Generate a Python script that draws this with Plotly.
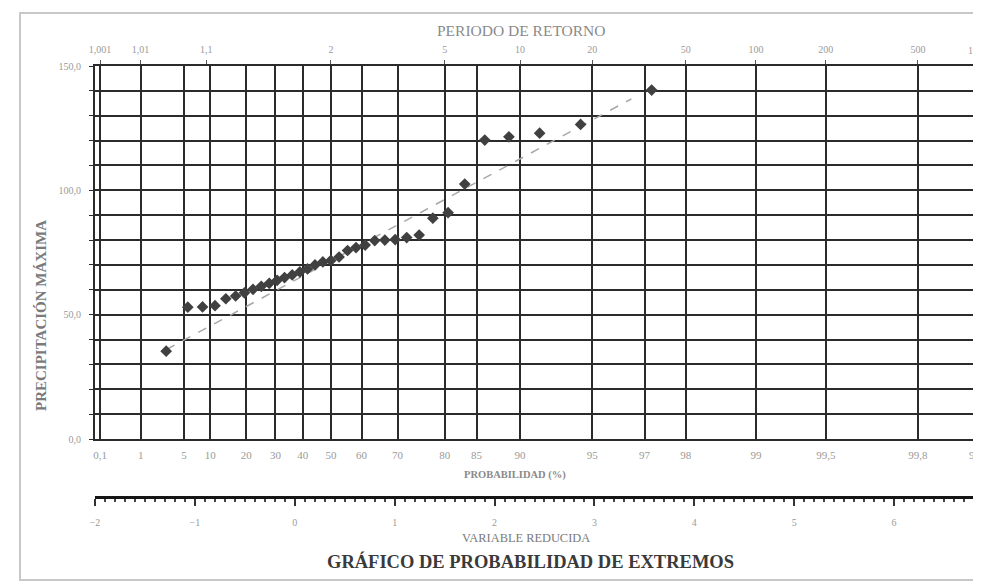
import numpy as np
import plotly.graph_objects as go

# ---------------- data ----------------
# plotting probability (%) of each observation
prob_pct = [2.8, 5.6, 8.3, 11.1, 13.9, 16.7, 19.4, 22.2, 25.0, 27.8, 30.6, 33.3,
            36.1, 38.9, 41.7, 44.4, 47.2, 50.0, 52.8, 55.6, 58.3, 61.1, 63.9, 66.7,
            69.4, 72.2, 75.0, 77.8, 80.6, 83.3, 86.1, 88.9, 91.7, 94.4, 97.2]
# maximum precipitation values
precip = [35.3, 53.0, 53.1, 53.6, 56.4, 57.5, 58.8, 60.2, 61.4, 62.6, 63.8, 64.9,
          66.0, 67.2, 68.4, 70.0, 71.2, 71.8, 73.2, 75.8, 77.0, 78.0, 79.8, 80.0,
          80.2, 81.0, 82.0, 88.8, 91.0, 102.5, 120.2, 121.5, 123.0, 126.5, 140.3]
# fitted (Gumbel) line end points: reduced variate and value
fit_reduced = [-1.27, 3.36]
fit_values = [36.0, 136.8]

prob_ticks = [0.1, 1, 5, 10, 20, 30, 40, 50, 60, 70, 80, 85, 90, 95, 97, 98, 99,
              99.5, 99.8]
prob_labels = ["0,1", "1", "5", "10", "20", "30", "40", "50", "60", "70", "80", "85",
               "90", "95", "97", "98", "99", "99,5", "99,8"]
period_ticks = [1.001, 1.01, 1.1, 2, 5, 10, 20, 50, 100, 200, 500]
period_labels = ["1,001", "1,01", "1,1", "2", "5", "10", "20", "50", "100", "200",
                 "500"]
# labels of the last grid line, cut by the right edge of the scanned sheet
edge_prob_label = "99,9"
edge_period_label = "1.000"
y_ticks = [0, 50, 100, 150]
y_labels = ["0,0", "50,0", "100,0", "150,0"]


def gumbel(F):
    F = np.asarray(F, dtype=float)
    return -np.log(-np.log(F))


SERIF = "Liberation Serif, Times New Roman, serif"
GRID = "#2b2b2b"
LBL = "#9a9a9a"

x_pts = gumbel(np.array(prob_pct) / 100.0)

# page body has an 8px margin: layout in figure px = screen px - 8
OFF = 8
W, H = 973, 584
L, R, T, B = 87, 0, 58, 95
pw, ph = W - L - R, H - T - B


def px(sx):
    return (sx - OFF - L) / pw


def py(sy):
    return (H - B - (sy - OFF)) / ph


xr = [-1.983, 6.842]
xr3 = [-2.0, 6.87]
ydom0 = py(439)

fig = go.Figure()
fig.add_trace(go.Scatter(x=fit_reduced, y=fit_values, mode="lines",
                         line=dict(color="#a8a8a8", width=1.5, dash="dash"),
                         hoverinfo="skip", showlegend=False))
fig.add_trace(go.Scatter(x=x_pts, y=precip, mode="markers",
                         marker=dict(symbol="diamond", size=9, color="#404040"),
                         showlegend=False))
# empty traces so that the extra axes are drawn
fig.add_trace(go.Scatter(x=[None], y=[None], xaxis="x2", yaxis="y",
                         mode="markers", showlegend=False, hoverinfo="skip"))
fig.add_trace(go.Scatter(x=[None], y=[None], xaxis="x3", yaxis="y",
                         mode="markers", showlegend=False, hoverinfo="skip"))

fig.update_layout(
    width=W, height=H,
    margin=dict(l=L, r=R, t=T, b=B),
    paper_bgcolor="white", plot_bgcolor="white",
    showlegend=False,
    xaxis=dict(domain=[0, 1], range=xr, anchor="y",
               tickmode="array", tickvals=gumbel(np.array(prob_ticks) / 100.0),
               ticktext=prob_labels, showgrid=True, gridcolor=GRID, gridwidth=1.8,
               zeroline=False, showline=True, linecolor=GRID, linewidth=2,
               ticks="", ticklabelstandoff=5, ticklabeloverflow="allow",
               tickfont=dict(family=SERIF, size=11, color=LBL)),
    xaxis2=dict(range=xr, anchor="y", overlaying="x", side="top",
                tickmode="array", tickvals=gumbel(1 - 1 / np.array(period_ticks)),
                ticktext=period_labels, showgrid=False, zeroline=False,
                showline=True, linecolor=GRID, linewidth=2,
                ticks="outside", ticklen=4, tickcolor="#555", ticklabelstandoff=3,
                ticklabeloverflow="allow",
                tickfont=dict(family=SERIF, size=10, color=LBL)),
    xaxis3=dict(range=xr3, anchor="free", position=0, overlaying="x", side="bottom",
                tickmode="linear", tick0=0, dtick=1, showgrid=False, zeroline=False,
                showline=True, linecolor="#151515", linewidth=2.5,
                ticks="outside", ticklen=7, tickwidth=1.5, tickcolor="#333",
                minor=dict(dtick=0.1, ticks="outside", ticklen=3, tickcolor="#444",
                           showgrid=False),
                ticklabelstandoff=8, ticklabeloverflow="allow",
                tickfont=dict(family=SERIF, size=10, color=LBL)),
    yaxis=dict(domain=[ydom0, 1], range=[0, 150], tickmode="array",
               tickvals=y_ticks, ticktext=y_labels,
               showgrid=True, gridcolor=GRID, gridwidth=1.8, zeroline=False,
               showline=True, linecolor=GRID, linewidth=2,
               ticks="outside", ticklen=4, tickcolor=GRID, ticklabelstandoff=6,
               minor=dict(dtick=10, showgrid=True, gridcolor=GRID, gridwidth=1.8,
                          ticks="outside", ticklen=4, tickcolor=GRID),
               tickfont=dict(family=SERIF, size=10, color=LBL)),
)

ann = [
    dict(text="PERIODO DE RETORNO", x=521, y=31, size=15.5, color="#8a8a8a", bold=False),
    dict(text="PROBABILIDAD (%)", x=515, y=475, size=10.5, color="#8a8a8a", bold=True),
    dict(text="VARIABLE REDUCIDA", x=526, y=538, size=12.4, color="#7a7a7a", bold=False),
    dict(text="GRÁFICO DE PROBABILIDAD DE EXTREMOS", x=530, y=561, size=18.5,
         color="#3a3a3a", bold=True),
]
for a in ann:
    t = "<b>%s</b>" % a["text"] if a["bold"] else a["text"]
    fig.add_annotation(text=t, x=px(a["x"]), y=py(a["y"]), xref="paper", yref="paper",
                       showarrow=False, xanchor="center", yanchor="middle",
                       font=dict(family=SERIF, size=a["size"], color=a["color"]))

fig.add_annotation(text="<b>PRECIPITACIÓN MÁXIMA</b>", x=px(41), y=py(316),
                   xref="paper", yref="paper", showarrow=False, textangle=-90,
                   xanchor="center", yanchor="middle",
                   font=dict(family=SERIF, size=15, color="#7a7a7a"))

# partially visible labels at the cut right edge of the sheet
fig.add_annotation(text=edge_prob_label, x=px(967), xanchor="left", xref="paper",
                   y=py(455), yref="paper", showarrow=False, yanchor="middle",
                   font=dict(family=SERIF, size=11, color=LBL))
fig.add_annotation(text=edge_period_label, x=px(966), xanchor="left", xref="paper",
                   y=py(50), yref="paper", showarrow=False, yanchor="middle",
                   font=dict(family=SERIF, size=10, color=LBL))

# scanned sheet frame
fig.add_shape(type="rect", xref="paper", yref="paper",
              x0=px(20), x1=px(1010), y0=py(580), y1=py(13),
              line=dict(color="#c8c8c8", width=2), layer="below")

fig.write_html("out.html")
